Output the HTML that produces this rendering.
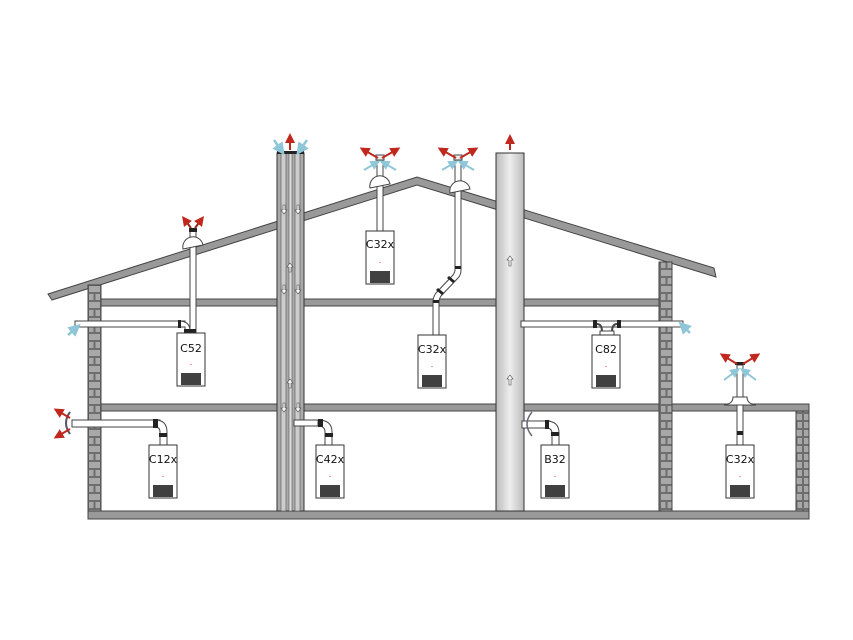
<!DOCTYPE html>
<html><head><meta charset="utf-8"><style>
html,body{margin:0;padding:0;background:#fff;width:853px;height:640px;overflow:hidden}
svg{display:block}
text{font-family:"DejaVu Sans","Liberation Sans",sans-serif;font-size:11px;fill:#111}
</style></head><body>
<svg width="853" height="640" viewBox="0 0 853 640" xmlns="http://www.w3.org/2000/svg">
<defs>
<pattern id="brick" x="88" y="285" width="13" height="16" patternUnits="userSpaceOnUse">
<rect width="13" height="16" fill="#6e6e6e"/>
<rect x="1" y="1" width="11" height="6" fill="#a8a8a8"/>
<rect x="1" y="9" width="4.5" height="6" fill="#a8a8a8"/>
<rect x="7.5" y="9" width="4.5" height="6" fill="#a8a8a8"/>
</pattern>
<linearGradient id="ch2" x1="0" x2="1" y1="0" y2="0">
<stop offset="0" stop-color="#bbb"/><stop offset="0.5" stop-color="#eee"/><stop offset="1" stop-color="#bbb"/>
</linearGradient>
<marker id="ar" viewBox="0 0 10 10" refX="5" refY="5" markerWidth="5" markerHeight="5" orient="auto"><path d="M0,0L10,5L0,10z" fill="#c0281e"/></marker>
<marker id="ab" viewBox="0 0 10 10" refX="5" refY="5" markerWidth="5" markerHeight="5" orient="auto"><path d="M0,0L10,5L0,10z" fill="#8fc6d8"/></marker>
<g id="boiler">
<rect x="0" y="0" width="28" height="53" fill="#fff" stroke="#333" stroke-width="1"/>
<rect x="4" y="40" width="20" height="12" fill="#404040"/>
<rect x="13.5" y="31" width="1" height="1" fill="#e33"/>
</g>
</defs>

<polygon points="48,294 417,177 714,268 716,277 417,185 52,300" fill="#999" stroke="#444" stroke-width="1"/>

<rect x="101" y="299" width="558" height="7" fill="#999" stroke="#444"/>
<rect x="101" y="404" width="708" height="7" fill="#999" stroke="#444"/>
<rect x="88" y="511" width="721" height="8" fill="#999" stroke="#444"/>

<rect x="88" y="285" width="13" height="226" fill="url(#brick)" stroke="#444"/>
<rect x="659" y="262" width="13" height="249" fill="url(#brick)" stroke="#444"/>
<rect x="796" y="411" width="13" height="100" fill="url(#brick)" stroke="#444"/>

<rect x="277" y="153" width="27" height="358" fill="#aaa" stroke="#333"/>
<rect x="281" y="153" width="5" height="358" fill="#ccc" stroke="#555" stroke-width="0.6"/>
<rect x="289" y="153" width="3" height="358" fill="#ddd" stroke="#555" stroke-width="0.6"/>
<rect x="295" y="153" width="5" height="358" fill="#ccc" stroke="#555" stroke-width="0.6"/>
<rect x="277" y="151" width="27" height="3" fill="#222"/>
<line x1="290" y1="150" x2="290" y2="138" stroke="#c0281e" stroke-width="2" marker-end="url(#ar)"/>
<line x1="274" y1="140" x2="281" y2="150" stroke="#8fc6d8" stroke-width="2.5" marker-end="url(#ab)"/>
<line x1="307" y1="140" x2="300" y2="150" stroke="#8fc6d8" stroke-width="2.5" marker-end="url(#ab)"/>
<g fill="#fff" stroke="#444" stroke-width="0.6">
<path d="M283,205 h2 v5 h2 l-3,4 l-3,-4 h2z"/><path d="M297,205 h2 v5 h2 l-3,4 l-3,-4h2z"/>
<path d="M290,263 l3,4 h-2 v5 h-2 v-5 h-2z"/>
<path d="M283,285 h2 v5 h2 l-3,4 l-3,-4 h2z"/><path d="M297,285 h2 v5 h2 l-3,4 l-3,-4h2z"/>
<path d="M290,379 l3,4 h-2 v5 h-2 v-5 h-2z"/>
<path d="M283,403 h2 v5 h2 l-3,4 l-3,-4 h2z"/><path d="M297,403 h2 v5 h2 l-3,4 l-3,-4h2z"/>
</g>

<rect x="496" y="153" width="28" height="358" fill="url(#ch2)" stroke="#333"/>
<line x1="510" y1="150" x2="510" y2="139" stroke="#c0281e" stroke-width="2" marker-end="url(#ar)"/>
<g fill="#fff" stroke="#444" stroke-width="0.6">
<path d="M510,256 l3,4 h-2 v6 h-2 v-6 h-2z"/>
<path d="M510,375 l3,4 h-2 v6 h-2 v-6 h-2z"/>
</g>

<rect x="190" y="230" width="6" height="103" fill="#fff" stroke="#444"/>
<path d="M183,249 a10,10 0 0 1 20,-4 z" fill="#fff" stroke="#444"/>
<rect x="189" y="228" width="8" height="4" fill="#222"/>
<line x1="191" y1="228" x2="185" y2="220" stroke="#8b2a20" stroke-width="2" marker-end="url(#ar)"/>
<line x1="195" y1="228" x2="201" y2="220" stroke="#8b2a20" stroke-width="2" marker-end="url(#ar)"/>
<rect x="75" y="321" width="110" height="6" fill="#fff" stroke="#444"/>
<path d="M179,321 q11,0 11,10 h6 v2 h-11 v-6 h-6z" fill="#fff" stroke="#444"/>
<rect x="178" y="320" width="3" height="8" fill="#222"/>
<rect x="184" y="329" width="12" height="4" fill="#222"/>
<line x1="68" y1="335" x2="76" y2="328" stroke="#8fc6d8" stroke-width="2.5" marker-end="url(#ab)"/>
<use href="#boiler" x="177" y="333"/><text x="191" y="352" text-anchor="middle">C52</text>

<rect x="72" y="420" width="88" height="7" fill="#fff" stroke="#444"/>
<path d="M155,420 q12,0 12,12 v13 h-7 v-13 q0,-5 -5,-5z" fill="#fff" stroke="#444"/>
<rect x="153" y="419" width="5" height="9" fill="#222"/>
<rect x="159" y="433" width="8" height="4" fill="#222"/>
<path d="M70,412 q-8,11 0,22" fill="none" stroke="#556" stroke-width="2"/>
<line x1="70" y1="418" x2="58" y2="411" stroke="#c0281e" stroke-width="2" marker-end="url(#ar)"/>
<line x1="70" y1="429" x2="58" y2="436" stroke="#c0281e" stroke-width="2" marker-end="url(#ar)"/>
<use href="#boiler" x="149" y="445"/><text x="163" y="463" text-anchor="middle">C12x</text>

<rect x="294" y="420" width="28" height="6" fill="#fff" stroke="#444"/>
<path d="M318,420 q14,0 14,12 v13 h-7 v-13 q0,-6 -7,-6z" fill="#fff" stroke="#444"/>
<rect x="318" y="419" width="5" height="8" fill="#222"/>
<rect x="325" y="433" width="8" height="4" fill="#222"/>
<use href="#boiler" x="316" y="445"/><text x="330" y="463" text-anchor="middle">C42x</text>

<rect x="377" y="160" width="6" height="71" fill="#fff" stroke="#444"/>
<path d="M370,188 a10,10 0 0 1 20,-4 z" fill="#fff" stroke="#444"/>
<rect x="376" y="155" width="8" height="5" fill="#eee" stroke="#444"/>
<line x1="378" y1="158" x2="364" y2="150" stroke="#c0281e" stroke-width="2" marker-end="url(#ar)"/>
<line x1="382" y1="158" x2="396" y2="150" stroke="#c0281e" stroke-width="2" marker-end="url(#ar)"/>
<line x1="364" y1="170" x2="376" y2="163" stroke="#8fc6d8" stroke-width="2" marker-end="url(#ab)"/>
<line x1="396" y1="170" x2="384" y2="163" stroke="#8fc6d8" stroke-width="2" marker-end="url(#ab)"/>
<use href="#boiler" x="366" y="231"/><text x="380" y="248" text-anchor="middle">C32x</text>

<path d="M455,160 h6 v110 q0,5 -3,8 l-17,18 q-2,3 -2,6 v33 h-6 v-33 q0,-5 3,-9 l17,-18 q2,-3 2,-5z" fill="#fff" stroke="#444"/>
<path d="M450,193 a10,10 0 0 1 20,-4 z" fill="#fff" stroke="#444"/>
<rect x="454" y="155" width="8" height="5" fill="#eee" stroke="#444"/>
<rect x="455" y="266" width="6" height="3" fill="#222"/>
<polygon points="449,276 455,281 453,283 447,278" fill="#222"/>
<polygon points="438,288 444,293 442,295 436,290" fill="#222"/>
<rect x="433" y="300" width="6" height="3" fill="#222"/>
<line x1="456" y1="158" x2="442" y2="150" stroke="#c0281e" stroke-width="2" marker-end="url(#ar)"/>
<line x1="460" y1="158" x2="474" y2="150" stroke="#c0281e" stroke-width="2" marker-end="url(#ar)"/>
<line x1="442" y1="170" x2="454" y2="163" stroke="#8fc6d8" stroke-width="2" marker-end="url(#ab)"/>
<line x1="474" y1="170" x2="462" y2="163" stroke="#8fc6d8" stroke-width="2" marker-end="url(#ab)"/>
<use href="#boiler" x="418" y="335"/><text x="432" y="353" text-anchor="middle">C32x</text>

<rect x="521" y="321" width="162" height="6" fill="#fff" stroke="#444"/>
<rect x="593" y="320" width="4" height="8" fill="#222"/>
<rect x="617" y="320" width="4" height="8" fill="#222"/>
<path d="M597,324 q5,0 5,8 v3 M617,324 q-5,0 -5,8 v3" fill="none" stroke="#444" stroke-width="2"/>
<rect x="600" y="331" width="14" height="4" fill="#fff" stroke="#444"/>
<line x1="690" y1="333" x2="683" y2="326" stroke="#8fc6d8" stroke-width="2.5" marker-end="url(#ab)"/>
<use href="#boiler" x="592" y="335"/><text x="606" y="353" text-anchor="middle">C82</text>

<rect x="522" y="421" width="28" height="7" fill="#fff" stroke="#444"/>
<path d="M546,421 q13,0 13,12 v12 h-7 v-12 q0,-5 -6,-5z" fill="#fff" stroke="#444"/>
<rect x="545" y="420" width="4" height="9" fill="#222"/>
<rect x="551" y="432" width="8" height="4" fill="#222"/>
<path d="M532,412 q-10,12 0,24" fill="none" stroke="#667" stroke-width="1.5"/>
<use href="#boiler" x="541" y="445"/><text x="555" y="463" text-anchor="middle">B32</text>

<rect x="737" y="365" width="6" height="80" fill="#fff" stroke="#444"/>
<path d="M733,397 q0,7 -9,8 h32 q-9,-1 -9,-8z" fill="#fff" stroke="#444"/>
<rect x="737" y="431" width="6" height="4" fill="#222"/>
<rect x="735" y="362" width="10" height="3" fill="#222"/>
<line x1="737" y1="364" x2="724" y2="356" stroke="#c0281e" stroke-width="2" marker-end="url(#ar)"/>
<line x1="743" y1="364" x2="756" y2="356" stroke="#c0281e" stroke-width="2" marker-end="url(#ar)"/>
<line x1="724" y1="380" x2="736" y2="371" stroke="#8fc6d8" stroke-width="2" marker-end="url(#ab)"/>
<line x1="756" y1="380" x2="744" y2="371" stroke="#8fc6d8" stroke-width="2" marker-end="url(#ab)"/>
<use href="#boiler" x="726" y="445"/><text x="740" y="463" text-anchor="middle">C32x</text>
</svg>
</body></html>
